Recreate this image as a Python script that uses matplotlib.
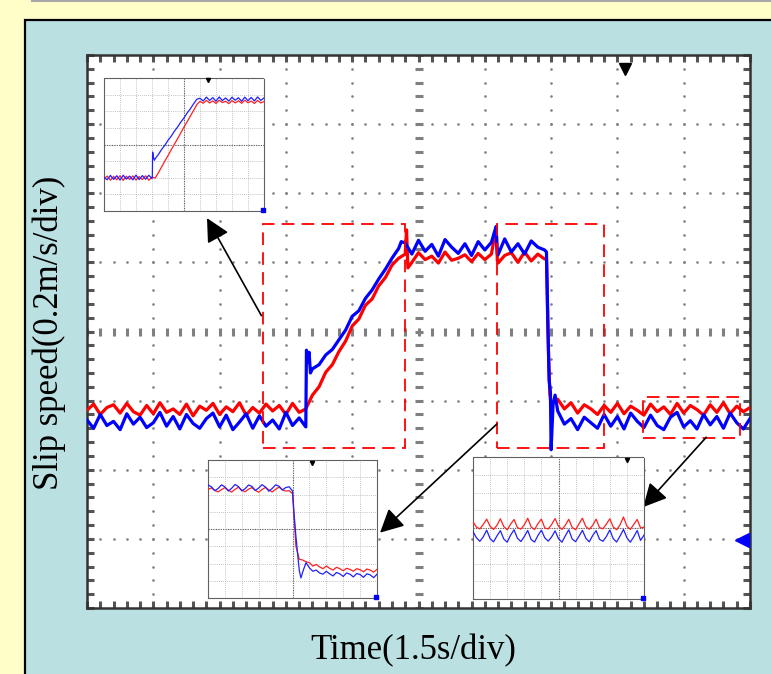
import numpy as np
import matplotlib
matplotlib.use("Agg")
import matplotlib.pyplot as plt
from matplotlib.patches import Rectangle
from matplotlib.ticker import MultipleLocator

# ---- main traces (divisions: x 0..10, y 0..8), sampled every 0.1 div ----
main_t = np.round(np.arange(0, 101) * 0.1, 2)

red_main = [2.86, 2.95, 2.80, 2.90, 2.94, 2.82, 2.96, 2.84, 2.79, 2.93, 2.81,
            2.97, 2.83, 2.88, 2.80, 2.95, 2.78, 2.92, 2.86, 2.96, 2.80, 2.91,
            2.84, 2.97, 2.79, 2.90, 2.82, 2.95, 2.85, 2.93, 2.80, 2.96, 2.83,
            2.88, 3.08, 3.20, 3.41, 3.52, 3.71, 3.86, 4.08, 4.18, 4.38, 4.47,
            4.66, 4.78, 4.96, 5.06,
            5.12, 5.00, 5.14, 5.04, 5.09, 4.99, 5.15, 5.03, 5.06, 5.11, 5.01,
            5.13, 5.04, 5.12, 4.99, 5.10, 5.14, 5.00, 5.15, 5.02, 5.12, 5.05,
            2.95, 3.02, 2.88, 2.97, 2.82, 2.94, 2.88, 2.80, 2.93, 2.83, 2.96,
            2.81, 2.92, 2.86, 2.79, 2.95, 2.84, 2.91, 2.80, 2.96, 2.82, 2.93,
            2.87, 2.79, 2.94, 2.83, 2.97, 2.81, 2.92, 2.84, 2.90]
red_main_fast_t = [4.82, 4.84, 6.17, 6.19, 6.93, 6.94, 6.95, 6.96, 6.98]
red_main_fast_v = [5.47, 4.92, 5.50, 5.02, 5.06, 4.60, 4.10, 3.70, 3.10]

blue_main = [2.72, 2.60, 2.80, 2.64, 2.70, 2.58, 2.81, 2.66, 2.76, 2.61, 2.68,
             2.83, 2.63, 2.77, 2.59, 2.80, 2.67, 2.60, 2.74, 2.82, 2.62, 2.79,
             2.58, 2.69, 2.81, 2.60, 2.78, 2.63, 2.72, 2.59, 2.83, 2.64, 2.75,
             2.62,
             3.46, 3.52, 3.66, 3.74, 3.88, 4.02, 4.22, 4.30, 4.48, 4.60, 4.76,
             4.90, 5.06, 5.20,
             5.28, 5.12, 5.32, 5.16, 5.26, 5.09, 5.33, 5.22, 5.13, 5.27, 5.10,
             5.30, 5.18, 5.29, 5.11, 5.34, 5.15, 5.27, 5.12, 5.31, 5.22, 5.18,
             2.29, 2.85, 2.66, 2.74, 2.58, 2.76, 2.68, 2.60, 2.80, 2.63, 2.77,
             2.59, 2.82, 2.70, 2.61, 2.79, 2.64, 2.58, 2.76, 2.83, 2.62, 2.71,
             2.59, 2.80, 2.65, 2.77, 2.60, 2.82, 2.68, 2.59, 2.74]
blue_main_fast_t = [3.31, 3.33, 3.35, 3.37, 4.74, 6.17, 6.19, 6.93, 6.95,
                    6.97, 6.99, 7.03, 7.06]
blue_main_fast_v = [3.73, 3.55, 3.70, 3.40, 5.30, 5.52, 5.12, 5.15, 4.20,
                    3.30, 3.12, 2.95, 3.08]

# ---- inset traces (own 10x8 grid), sampled every 0.2 div ----
inset_t = np.round(np.arange(0, 51) * 0.2, 2)

rise_red = [1.95, 2.10, 1.85, 2.08, 1.88, 2.12, 1.84, 2.09, 1.90, 2.11, 1.86,
            2.07, 1.89, 2.12, 1.85, 2.04,
            1.98, 2.30, 2.65, 3.00, 3.33, 3.68, 4.02, 4.35, 4.70, 5.05, 5.37,
            5.72, 6.05, 6.40,
            6.60, 6.48, 6.65, 6.50, 6.62, 6.47, 6.66, 6.52, 6.60, 6.46, 6.64,
            6.50, 6.63, 6.48, 6.66, 6.51, 6.61, 6.47, 6.65, 6.50, 6.58]
rise_blue = [2.02, 1.88, 2.14, 1.90, 2.12, 1.86, 2.15, 1.92, 2.10, 1.87, 2.16,
             1.89, 2.13, 1.91, 2.15, 1.95,
             3.15, 3.40, 3.70, 3.95, 4.25, 4.50, 4.80, 5.05, 5.35, 5.60, 5.90,
             6.15, 6.45, 6.72,
             6.78, 6.62, 6.85, 6.65, 6.82, 6.60, 6.86, 6.64, 6.80, 6.61, 6.84,
             6.66, 6.81, 6.60, 6.85, 6.63, 6.83, 6.62, 6.86, 6.65, 6.80]
rise_blue_fast_t = [3.02, 3.04, 3.10, 3.15]
rise_blue_fast_v = [2.05, 3.55, 3.20, 3.05]

fall_red = [6.30, 6.38, 6.24, 6.15, 6.28, 6.40, 6.26, 6.14, 6.30, 6.42, 6.25,
            6.16, 6.31, 6.40, 6.24, 6.13, 6.29, 6.41, 6.27, 6.15, 6.30, 6.43,
            6.28, 6.20, 6.22, 6.05,
            3.00, 2.25, 2.20, 2.10, 2.05, 1.85, 1.95, 1.80, 1.70, 1.85, 1.72,
            1.62, 1.78, 1.70, 1.58, 1.72, 1.66, 1.55, 1.70, 1.64, 1.52, 1.68,
            1.62, 1.50, 1.66]
fall_red_fast_t = [5.1]
fall_red_fast_v = [4.6]
fall_blue = [6.55, 6.45, 6.22, 6.35, 6.56, 6.44, 6.20, 6.36, 6.58, 6.46, 6.21,
             6.34, 6.55, 6.47, 6.23, 6.38, 6.57, 6.43, 6.19, 6.35, 6.56, 6.48,
             6.26, 6.40, 6.45, 6.20,
             3.60, 1.60, 1.50, 2.05, 1.75, 1.55, 1.62, 1.45, 1.38, 1.55, 1.40,
             1.28, 1.48, 1.40, 1.25, 1.45, 1.38, 1.22, 1.42, 1.36, 1.20, 1.40,
             1.34, 1.18, 1.38]
fall_blue_fast_t = [5.1, 5.5]
fall_blue_fast_v = [4.8, 1.16]

steady_red = [4.35, 4.05, 3.95, 4.20, 4.50, 4.10, 3.92, 4.15, 4.52, 4.08,
              3.90, 4.22, 4.48, 4.02, 3.94, 4.18, 4.55, 4.06, 3.91, 4.25,
              4.50, 4.00, 3.95, 4.20, 4.53, 4.10, 3.92, 4.16, 4.49, 4.04,
              3.90, 4.24, 4.55, 4.08, 3.93, 4.15, 4.50, 4.02, 3.96, 4.22,
              4.52, 4.06, 3.90, 4.18, 4.62, 4.10, 3.92, 4.20, 4.48, 4.00, 4.05]
steady_blue = [3.80, 3.45, 3.25, 3.50, 3.88, 3.40, 3.22, 3.55, 3.85, 3.38,
               3.20, 3.60, 3.90, 3.42, 3.24, 3.52, 3.86, 3.35, 3.21, 3.58,
               3.88, 3.44, 3.26, 3.50, 3.84, 3.40, 3.20, 3.56, 3.90, 3.38,
               3.23, 3.54, 3.87, 3.42, 3.22, 3.58, 3.85, 3.36, 3.25, 3.52,
               3.89, 3.40, 3.21, 3.55, 3.92, 3.45, 3.20, 3.50, 3.86, 3.30, 3.60]

# zoom boxes (x0, x1, y0, y1) and arrows (tail, head) in main divisions
zoom_boxes = [(2.65, 4.80, 2.32, 5.56), (6.18, 7.80, 2.32, 5.56),
              (8.39, 9.85, 2.46, 3.05)]
arrows = [((2.63, 4.23), (1.81, 5.64)), ((6.18, 2.66), (4.42, 1.09)),
          ((9.34, 2.47), (8.39, 1.46))]

W, H = 771, 674
YELLOW = '#fffdc8'
PANEL = '#bae0e2'
SERIF = ['Liberation Serif', 'DejaVu Serif']


def merged(t, v, ft=(), fv=()):
    tt = np.concatenate([t, ft])
    vv = np.concatenate([v, fv])
    order = np.argsort(tt, kind='stable')
    return tt[order], vv[order]


def px_axes(x0, y0, x1, y1, **kw):
    # pixel box (top-left origin) -> figure axes
    return fig.add_axes([x0 / W, 1 - y1 / H, (x1 - x0) / W, (y1 - y0) / H], **kw)


def scope_grid(ax):
    dots = np.round(np.arange(0, 51) * 0.2, 2)
    ydots = np.round(np.arange(0, 41) * 0.2, 2)
    for gx in [1, 2, 3, 4, 6, 7, 8, 9]:
        ax.plot(np.full(len(ydots), gx), ydots, 'o', ms=1.9, color='#808080',
                mec='none', zorder=1)
    for gy in [1, 2, 3, 5, 6, 7]:
        ax.plot(dots, np.full(len(dots), gy), 'o', ms=1.9, color='#808080',
                mec='none', zorder=1)
    ax.plot(dots, np.full(len(dots), 4), '|', ms=6, mew=2.2, color='#808080',
            zorder=1)
    ax.plot(np.full(len(ydots), 5), ydots, '_', ms=6, mew=2.2, color='#808080',
            zorder=1)


def inset(box, red, blue, rft=(), rfv=(), bft=(), bfv=(), mark_x=6.5):
    ax = px_axes(*box, zorder=5)
    ax.set_facecolor('white')
    ax.set_xlim(0, 10)
    ax.set_ylim(0, 8)
    ax.set_xticks([])
    ax.set_yticks([])
    for g in range(1, 10):
        ax.axvline(g, color='#b0b0b0', lw=0.6, ls=(0, (1, 1.5)), zorder=1)
    for g in range(1, 8):
        ax.axhline(g, color='#b0b0b0', lw=0.6, ls=(0, (1, 1.5)), zorder=1)
    ax.axvline(5, color='#606060', lw=0.8, ls=(0, (1, 1.2)), zorder=1)
    ax.axhline(4, color='#606060', lw=0.8, ls=(0, (1, 1.2)), zorder=1)
    for s in ax.spines.values():
        s.set_linestyle((0, (1, 1)))
        s.set_linewidth(0.8)
        s.set_color('#606060')
    t, v = merged(inset_t, red, rft, rfv)
    ax.plot(t, v, color='#ff2020', lw=0.9, zorder=3)
    t, v = merged(inset_t, blue, bft, bfv)
    ax.plot(t, v, color='#2020ff', lw=0.9, zorder=4)
    ax.plot([mark_x], [7.85], marker='v', ms=3, color='black', zorder=5,
            clip_on=False)
    ax.plot([9.95], [0.08], marker='s', ms=2.5, color='blue', zorder=5,
            clip_on=False)
    return ax


fig = plt.figure(figsize=(W / 100, H / 100), dpi=100)
fig.patch.set_facecolor(YELLOW)
fig.add_artist(Rectangle((25 / W, -0.1), 1.0, 1.1 - 20 / H,
                         transform=fig.transFigure, facecolor=PANEL,
                         edgecolor='black', lw=1.6))
fig.add_artist(plt.Line2D([32 / W, 1], [1 - 0.6 / H, 1 - 0.6 / H],
                          transform=fig.transFigure, color='#a8a8a8', lw=1.5))

ax = px_axes(87, 55, 750, 608, zorder=1)
ax.set_facecolor('white')
ax.set_xlim(0, 10)
ax.set_ylim(0, 8)
ax.xaxis.set_major_locator(MultipleLocator(0.2))
ax.yaxis.set_major_locator(MultipleLocator(0.2))
ax.tick_params(which='both', direction='in', length=5, width=2.2,
               color='#555555', top=True, right=True,
               labelbottom=False, labelleft=False)
for s in ax.spines.values():
    s.set_color('#333333')
    s.set_linewidth(1.8)
scope_grid(ax)

t, v = merged(main_t, red_main, red_main_fast_t, red_main_fast_v)
ax.plot(t, v, color='#ff0000', lw=2.3, zorder=3)
t, v = merged(main_t, blue_main, blue_main_fast_t, blue_main_fast_v)
ax.plot(t, v, color='#0000ff', lw=2.3, zorder=4)

for x0, x1, y0, y1 in zoom_boxes:
    ax.add_patch(Rectangle((x0, y0), x1 - x0, y1 - y0, fill=False,
                           edgecolor='#ff0000', lw=1.3, ls=(0, (7, 4)),
                           zorder=6))
for tail, head in arrows:
    ax.annotate('', xy=head, xytext=tail,
                arrowprops=dict(arrowstyle='-|>,head_length=0.55,head_width=0.28',
                                color='black', lw=1.2, mutation_scale=26,
                                shrinkA=0, shrinkB=0),
                zorder=7)

ax.plot([8.11], [7.80], marker='v', ms=9, color='black', zorder=8,
        clip_on=False)
ax.plot([9.88], [0.98], marker='<', ms=10, color='blue', zorder=8,
        clip_on=False)

inset((104, 78, 264, 211), rise_red, rise_blue, bft=rise_blue_fast_t,
      bfv=rise_blue_fast_v, mark_x=6.5)
inset((208, 460, 377, 598), fall_red, fall_blue, fall_red_fast_t,
      fall_red_fast_v, fall_blue_fast_t, fall_blue_fast_v, mark_x=6.15)
inset((473, 457, 644, 599), steady_red, steady_blue, mark_x=9.0)

fig.text(413 / W, 1 - 651 / H, 'Time(1.5s/div)', ha='center', va='center',
         fontsize=25, family=SERIF)
fig.text(49 / W, 1 - 333 / H, 'Slip speed(0.2m/s/div)', ha='center',
         va='center', rotation=90, fontsize=25, family=SERIF)

fig.savefig('out.png', dpi=100, facecolor=YELLOW)
